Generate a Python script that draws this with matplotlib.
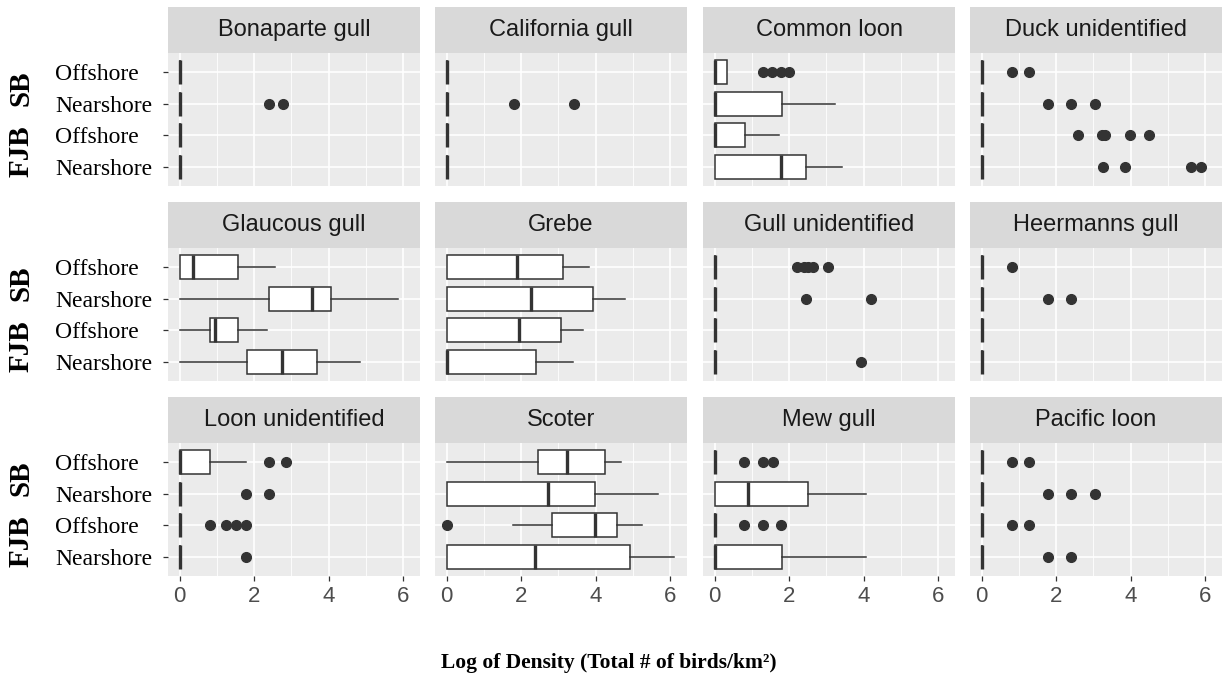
import matplotlib
matplotlib.use("Agg")
import matplotlib.pyplot as plt
import matplotlib.transforms as mtransforms

# facet titles, in reading order (3 rows x 4 columns)
species = ["Bonaparte gull", "California gull", "Common loon", "Duck unidentified",
           "Glaucous gull", "Grebe", "Gull unidentified", "Heermanns gull",
           "Loon unidentified", "Scoter", "Mew gull", "Pacific loon"]

# y categories, top to bottom
site_labels = ["Offshore", "Nearshore", "Offshore", "Nearshore"]
group_labels = ["SB", "FJB"]

# box statistics per species, order: SB Offshore, SB Nearshore, FJB Offshore, FJB Nearshore
box_q1 = [
    [0, 0, 0, 0], [0, 0, 0, 0], [0, 0, 0, 0], [0, 0, 0, 0],
    [0, 2.39, 0.82, 1.81], [0, 0, 0, 0], [0, 0, 0, 0], [0, 0, 0, 0],
    [0, 0, 0, 0], [2.44, 0, 2.84, 0], [0, 0, 0, 0], [0, 0, 0, 0],
]
box_med = [
    [0, 0, 0, 0], [0, 0, 0, 0], [0, 0, 0, 1.77], [0, 0, 0, 0],
    [0.36, 3.55, 0.96, 2.75], [1.9, 2.27, 1.94, 0], [0, 0, 0, 0], [0, 0, 0, 0],
    [0, 0, 0, 0], [3.22, 2.73, 3.97, 2.36], [0, 0.91, 0, 0], [0, 0, 0, 0],
]
box_q3 = [
    [0, 0, 0, 0], [0, 0, 0, 0], [0.33, 1.8, 0.83, 2.45], [0, 0, 0, 0],
    [1.58, 4.07, 1.58, 3.69], [3.12, 3.92, 3.08, 2.41], [0, 0, 0, 0], [0, 0, 0, 0],
    [0.82, 0, 0, 0], [4.26, 3.99, 4.58, 4.91], [0, 2.51, 0, 1.8], [0, 0, 0, 0],
]
whisk_lo = [
    [0, 0, 0, 0], [0, 0, 0, 0], [0, 0, 0, 0], [0, 0, 0, 0],
    [0, 0, 0, 0], [0, 0, 0, 0], [0, 0, 0, 0], [0, 0, 0, 0],
    [0, 0, 0, 0], [0, 0, 1.77, 0], [0, 0, 0, 0], [0, 0, 0, 0],
]
whisk_hi = [
    [0, 0, 0, 0], [0, 0, 0, 0], [0.33, 3.22, 1.74, 3.43], [0, 0, 0, 0],
    [2.57, 5.85, 2.35, 4.83], [3.83, 4.8, 3.65, 3.38], [0, 0, 0, 0], [0, 0, 0, 0],
    [1.77, 0, 0, 0], [4.69, 5.66, 5.23, 6.09], [0, 4.07, 0, 4.07], [0, 0, 0, 0],
]
outliers = [
    [[], [2.4, 2.77], [], []],
    [[], [1.8, 3.43], [], []],
    [[1.3, 1.55, 1.79, 2.0], [], [], []],
    [[0.82, 1.27], [1.79, 2.39, 3.04], [2.6, 3.24, 3.3, 3.97, 4.5], [3.27, 3.84, 5.63, 5.9]],
    [[], [], [], []],
    [[], [], [], []],
    [[2.2, 2.39, 2.52, 2.64, 3.03], [2.44, 4.21], [], [3.94]],
    [[0.82], [1.79, 2.39], [], []],
    [[2.39, 2.86], [1.77, 2.39], [0.82, 1.25, 1.52, 1.79], [1.79]],
    [[], [], [0], []],
    [[0.8, 1.29, 1.58], [], [0.8, 1.29, 1.77], []],
    [[0.82, 1.27], [1.79, 2.39, 3.04], [0.82, 1.27], [1.79, 2.39]],
]
x_ticks = [0, 2, 4, 6]

serif = "Liberation Serif"
sans = "Liberation Sans"

W, H = 1222, 678
fig = plt.figure(figsize=(W / 100, H / 100), dpi=100)

col_left = [168, 435, 703, 970]
row_top = [53, 248, 443]
pw, ph, strip_h = 252, 133, 46

positions = [4, 3, 2, 1]  # top to bottom

for i, name in enumerate(species):
    r, c = divmod(i, 4)
    left, top = col_left[c], row_top[r]
    ax = fig.add_axes([left / W, 1 - (top + ph) / H, pw / W, ph / H])
    ax.set_facecolor("#EBEBEB")
    for s in ax.spines.values():
        s.set_visible(False)

    stats = []
    for k in range(4):
        stats.append({
            "q1": box_q1[i][k], "med": box_med[i][k], "q3": box_q3[i][k],
            "whislo": whisk_lo[i][k], "whishi": whisk_hi[i][k],
            "fliers": outliers[i][k],
        })
    ax.bxp(stats, positions=positions, widths=0.75, vert=False, patch_artist=True,
           showcaps=False, manage_ticks=False,
           boxprops=dict(facecolor="white", edgecolor="#333333", linewidth=1.1),
           medianprops=dict(color="#333333", linewidth=2.4),
           whiskerprops=dict(color="#333333", linewidth=1.1),
           flierprops=dict(marker="o", markerfacecolor="#333333", markeredgecolor="#333333",
                           markersize=7, linestyle="none"),
           zorder=3)

    ax.set_xlim(-0.31, 6.45)
    ax.set_ylim(0.4, 4.6)
    ax.set_xticks(x_ticks)
    ax.set_xticks([1, 3, 5], minor=True)
    ax.set_yticks(positions)
    ax.grid(True, which="major", color="white", linewidth=1.2, zorder=0)
    ax.grid(True, which="minor", axis="x", color="white", linewidth=0.6, zorder=0)
    ax.set_axisbelow(True)

    ax.tick_params(axis="both", which="minor", length=0)
    if r == 2:
        ax.tick_params(axis="x", which="major", length=3.5, color="#333333", width=0.9,
                       labelsize=16, labelcolor="#4D4D4D", pad=4)
        for lab in ax.get_xticklabels():
            lab.set_fontfamily(sans)
    else:
        ax.tick_params(axis="x", which="major", length=0, labelbottom=False)

    if c == 0:
        ax.set_yticklabels(site_labels)
        ax.tick_params(axis="y", which="major", length=3.5, color="#333333", width=0.9,
                       labelsize=17, labelcolor="black", pad=77.5)
        for lab in ax.get_yticklabels():
            lab.set_fontfamily(serif)
            lab.set_horizontalalignment("left")
        trans = mtransforms.blended_transform_factory(fig.transFigure, ax.transData)
        ax.text(21 / W, 3.5, group_labels[0], transform=trans, rotation=90,
                ha="center", va="center", fontsize=21, fontweight="bold", family=serif)
        ax.text(21 / W, 1.5, group_labels[1], transform=trans, rotation=90,
                ha="center", va="center", fontsize=21, fontweight="bold", family=serif)
    else:
        ax.tick_params(axis="y", which="major", length=0, labelleft=False)

    # facet strip
    sax = fig.add_axes([left / W, 1 - top / H, pw / W, strip_h / H])
    sax.set_facecolor("#D9D9D9")
    sax.set_xticks([])
    sax.set_yticks([])
    for s in sax.spines.values():
        s.set_visible(False)
    sax.text(0.5, 0.5, name, ha="center", va="center", fontsize=17,
             color="#1A1A1A", family=sans, transform=sax.transAxes)

fig.text(609 / W, 1 - 663 / H, "Log of Density (Total # of birds/km²)",
         ha="center", va="center", fontsize=15.5, fontweight="bold", family=serif)

fig.savefig("out.png", dpi=100)
